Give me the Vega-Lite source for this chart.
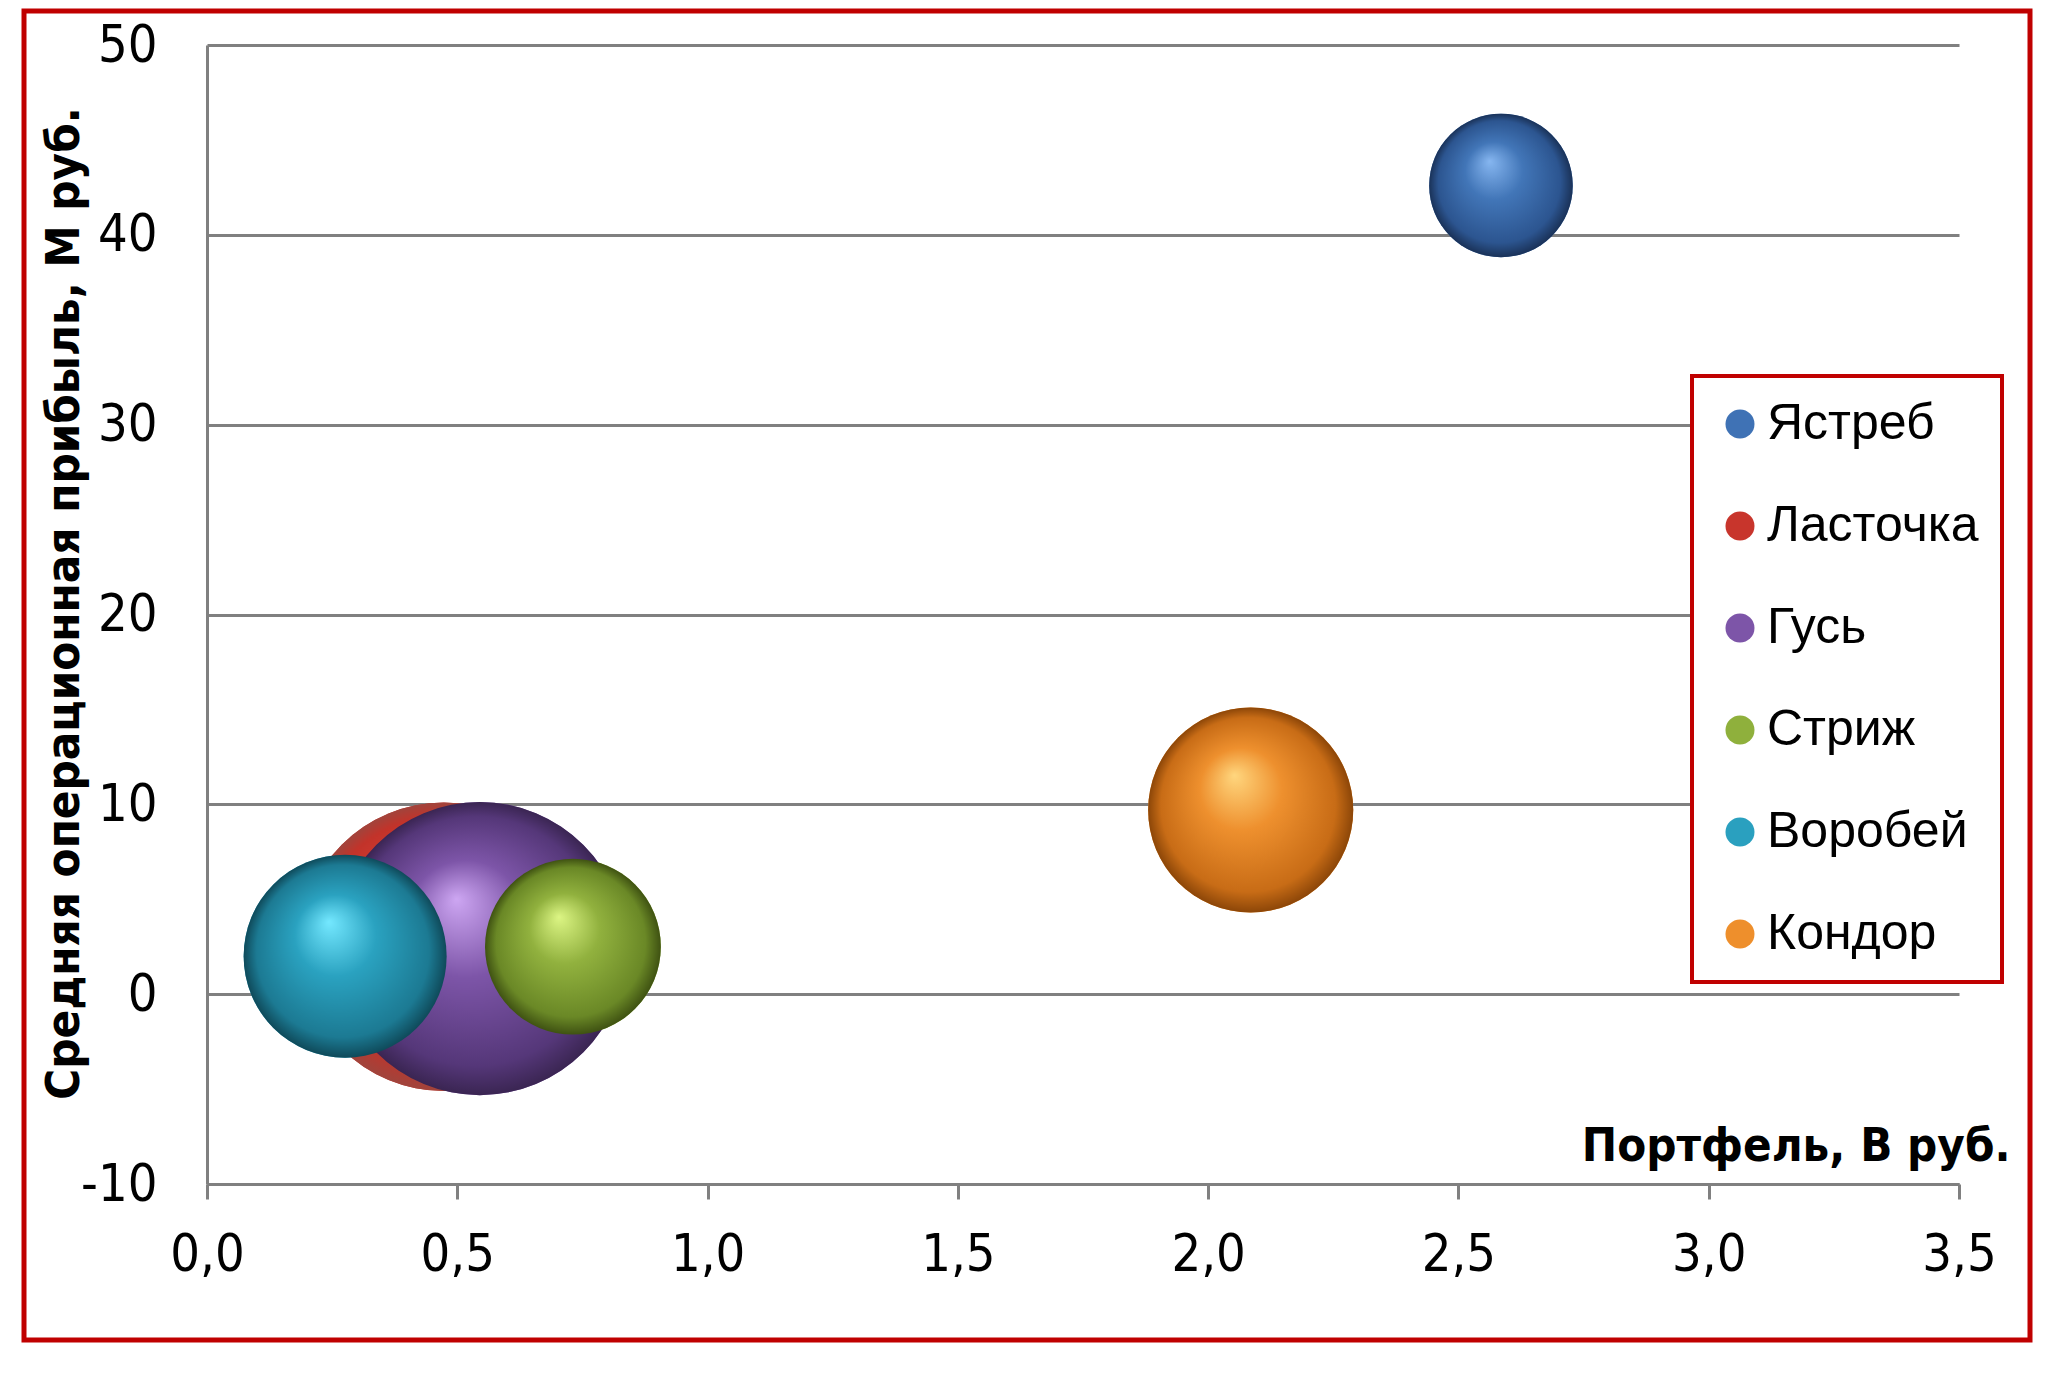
{
  "$schema": "https://vega.github.io/schema/vega-lite/v6.json",
  "width": 2006,
  "height": 1329,
  "padding": {"left": 24, "top": 11, "right": 37, "bottom": 38},
  "autosize": {"type": "none"},
  "background": "white",
  "config": {
    "view": {"stroke": "#c00000", "strokeWidth": 5, "fill": "white"},
    "axis": {
      "labelFont": "DejaVu Sans Condensed, Liberation Sans Narrow, sans-serif",
      "titleFont": "DejaVu Sans Condensed, Liberation Sans Narrow, sans-serif",
      "labelFontSize": 52,
      "titleFontSize": 47,
      "titleFontWeight": "bold",
      "labelColor": "#000000",
      "titleColor": "#000000",
      "domainColor": "#808080",
      "domainWidth": 3,
      "tickColor": "#808080",
      "tickWidth": 3,
      "gridColor": "#808080",
      "gridWidth": 3,
      "gridOpacity": 1
    }
  },
  "data": {
    "values": [
      {"bird": "Ястреб", "portfolio": 2.585, "profit": 42.6, "size": 24},
      {"bird": "Ласточка", "portfolio": 0.473, "profit": 2.5, "size": 97},
      {"bird": "Гусь", "portfolio": 0.545, "profit": 2.4, "size": 100},
      {"bird": "Стриж", "portfolio": 0.731, "profit": 2.5, "size": 36},
      {"bird": "Воробей", "portfolio": 0.276, "profit": 2.0, "size": 48},
      {"bird": "Кондор", "portfolio": 2.085, "profit": 9.7, "size": 49}
    ]
  },
  "encoding": {
    "x": {
      "field": "portfolio",
      "type": "quantitative",
      "scale": {"domain": [0, 3.5], "range": [183, 1935], "nice": false, "zero": false},
      "axis": {
        "title": "Портфель, В руб.",
        "values": [0, 0.5, 1, 1.5, 2, 2.5, 3, 3.5],
        "labelExpr": "replace(format(datum.value, '.1f'), '.', ',')",
        "grid": false,
        "offset": -156,
        "tickSize": 15,
        "labelPadding": 30,
        "labelAlign": "center",
        "labelBaseline": "top",
        "titleX": 1986,
        "titleY": -24,
        "titleAlign": "right",
        "titleBaseline": "alphabetic",
        "titleAngle": 0
      }
    },
    "y": {
      "field": "profit",
      "type": "quantitative",
      "scale": {"domain": [-10, 50], "range": [1173, 34], "nice": false, "zero": false},
      "axis": {
        "title": "Средняя операционная прибыль, М руб.",
        "values": [-10, 0, 10, 20, 30, 40, 50],
        "labelExpr": "datum.value + ''",
        "grid": true,
        "ticks": false,
        "tickSize": 0,
        "offset": -183,
        "labelPadding": 50,
        "labelAlign": "right",
        "labelBaseline": "middle",
        "titleX": -129,
        "titleY": 592,
        "titleAngle": -90,
        "titleAlign": "center",
        "titleBaseline": "alphabetic"
      }
    },
    "size": {
      "field": "size",
      "type": "quantitative",
      "scale": {"domain": [0, 100], "range": [0, 85849], "zero": true},
      "legend": null
    }
  },
  "layer": [
    {
      "mark": {"type": "point", "shape": "circle", "filled": true, "opacity": 1, "strokeWidth": 0},
      "encoding": {
        "color": {
          "field": "bird",
          "type": "nominal",
          "scale": {
            "domain": ["Ястреб", "Ласточка", "Гусь", "Стриж", "Воробей", "Кондор"],
            "range": ["#3f72b5", "#c8352c", "#7d55a8", "#8fb03c", "#2aa0bf", "#ee8f2c"]
          },
          "legend": {
            "title": null,
            "orient": "none",
            "legendX": 1668,
            "legendY": 365,
            "direction": "vertical",
            "fillColor": "white",
            "strokeColor": "#c00000",
            "padding": 23,
            "symbolType": "circle",
            "symbolSize": 841,
            "symbolStrokeWidth": 0,
            "symbolOpacity": 1,
            "labelFont": "Liberation Sans, Arial, sans-serif",
            "labelFontSize": 50,
            "labelColor": "#000000",
            "labelOffset": 2,
            "rowPadding": 52,
            "labelLimit": 400,
            "encode": {"legend": {"update": {"strokeWidth": {"value": 4}}}}
          }
        }
      }
    },
    {
      "transform": [{"filter": "datum.bird === 'Ястреб'"}],
      "mark": {"type": "point", "shape": "circle", "filled": true, "opacity": 1, "strokeWidth": 0,
        "fill": {"gradient": "radial", "x1": 0.42, "y1": 0.33, "r1": 0, "x2": 0.5, "y2": 0.5, "r2": 0.5,
          "stops": [{"offset": 0, "color": "#86b6f0"}, {"offset": 0.4, "color": "#4276b8"}, {"offset": 0.85, "color": "#2c5590"}, {"offset": 1, "color": "#1a3258"}]}}
    },
    {
      "transform": [{"filter": "datum.bird === 'Ласточка'"}],
      "mark": {"type": "point", "shape": "circle", "filled": true, "opacity": 1, "strokeWidth": 0,
        "fill": {"gradient": "radial", "x1": 0.42, "y1": 0.33, "r1": 0, "x2": 0.5, "y2": 0.5, "r2": 0.5,
          "stops": [{"offset": 0, "color": "#f58a80"}, {"offset": 0.4, "color": "#d83e33"}, {"offset": 0.85, "color": "#c2332a"}, {"offset": 1, "color": "#a0443c"}]}}
    },
    {
      "transform": [{"filter": "datum.bird === 'Гусь'"}],
      "mark": {"type": "point", "shape": "circle", "filled": true, "opacity": 1, "strokeWidth": 0,
        "fill": {"gradient": "radial", "x1": 0.42, "y1": 0.33, "r1": 0, "x2": 0.5, "y2": 0.5, "r2": 0.5,
          "stops": [{"offset": 0, "color": "#cda6f2"}, {"offset": 0.4, "color": "#7d55a8"}, {"offset": 0.85, "color": "#553779"}, {"offset": 1, "color": "#3a2552"}]}}
    },
    {
      "transform": [{"filter": "datum.bird === 'Стриж'"}],
      "mark": {"type": "point", "shape": "circle", "filled": true, "opacity": 1, "strokeWidth": 0,
        "fill": {"gradient": "radial", "x1": 0.42, "y1": 0.33, "r1": 0, "x2": 0.5, "y2": 0.5, "r2": 0.5,
          "stops": [{"offset": 0, "color": "#dcf584"}, {"offset": 0.4, "color": "#91b13e"}, {"offset": 0.85, "color": "#6a8826"}, {"offset": 1, "color": "#3f5212"}]}}
    },
    {
      "transform": [{"filter": "datum.bird === 'Воробей'"}],
      "mark": {"type": "point", "shape": "circle", "filled": true, "opacity": 1, "strokeWidth": 0,
        "fill": {"gradient": "radial", "x1": 0.42, "y1": 0.33, "r1": 0, "x2": 0.5, "y2": 0.5, "r2": 0.5,
          "stops": [{"offset": 0, "color": "#74e8ff"}, {"offset": 0.4, "color": "#2aa2c0"}, {"offset": 0.85, "color": "#1c7a93"}, {"offset": 1, "color": "#0f4a5a"}]}}
    },
    {
      "transform": [{"filter": "datum.bird === 'Кондор'"}],
      "mark": {"type": "point", "shape": "circle", "filled": true, "opacity": 1, "strokeWidth": 0,
        "fill": {"gradient": "radial", "x1": 0.42, "y1": 0.33, "r1": 0, "x2": 0.5, "y2": 0.5, "r2": 0.5,
          "stops": [{"offset": 0, "color": "#ffd67e"}, {"offset": 0.4, "color": "#ee902e"}, {"offset": 0.85, "color": "#c86c16"}, {"offset": 1, "color": "#8c4608"}]}}
    }
  ]
}
